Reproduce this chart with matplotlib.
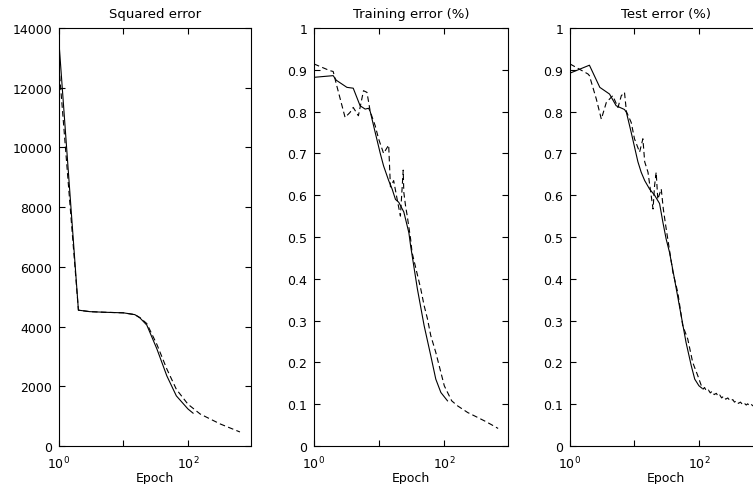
import matplotlib
matplotlib.use("Agg")
import matplotlib.pyplot as plt

# squared error
sq_solid_epoch = [1, 2, 3, 5, 10, 15, 18, 23, 33, 47, 66, 100, 120]
sq_solid_val = [13500, 4550, 4500, 4480, 4460, 4400, 4290, 4050, 3250, 2350, 1680, 1240, 1100]
sq_dash_epoch = [1, 2, 3, 5, 10, 15, 18, 23, 33, 47, 66, 100, 155, 315, 640]
sq_dash_val = [12700, 4550, 4500, 4480, 4460, 4400, 4300, 4100, 3400, 2580, 1900, 1400, 1070, 740, 470]

# training error
tr_solid_epoch = [1, 1.97, 2.2, 3.2, 4.0, 5.1, 6.1, 6.9, 7.3, 8.7, 10.4, 11.7, 14, 15.8,
                  17.8, 20, 23.9, 28.6, 30.4, 38.6, 49, 62, 74, 88.6, 112]
tr_solid_val = [0.882, 0.886, 0.875, 0.858, 0.856, 0.814, 0.806, 0.808, 0.80, 0.75, 0.70,
                0.67, 0.635, 0.615, 0.59, 0.583, 0.56, 0.51, 0.479, 0.376, 0.288, 0.216,
                0.160, 0.128, 0.108]
tr_dash_epoch = [1, 1.75, 1.97, 2.2, 3.0, 3.57, 4.0, 4.8, 5.75, 6.5, 7.3, 8.7, 9.8, 11.7,
                 14, 14.9, 16.7, 18.9, 21.2, 23.4, 23.9, 25.4, 27, 30.4, 32, 43.5, 49, 55,
                 62, 74, 88.6, 100, 119, 130, 160, 229, 300, 415, 530, 670]
tr_dash_val = [0.914, 0.898, 0.896, 0.866, 0.786, 0.798, 0.81, 0.79, 0.85, 0.846, 0.80,
               0.766, 0.735, 0.70, 0.72, 0.62, 0.635, 0.59, 0.55, 0.66, 0.607, 0.575, 0.55,
               0.495, 0.463, 0.376, 0.336, 0.305, 0.264, 0.224, 0.176, 0.144, 0.12, 0.108,
               0.096, 0.080, 0.071, 0.060, 0.051, 0.042]

# test error
te_solid_epoch = [1, 2.0, 2.9, 4.1, 5.2, 7.0, 7.5, 8.9, 11.3, 12.7, 14.4, 17.1, 20.5,
                  24.5, 27.6, 31, 35, 41.8, 53, 63, 76, 86, 100, 112]
te_solid_val = [0.892, 0.911, 0.858, 0.842, 0.814, 0.805, 0.798, 0.75, 0.68, 0.655, 0.635,
                0.615, 0.60, 0.58, 0.535, 0.495, 0.463, 0.399, 0.312, 0.248, 0.192, 0.16,
                0.144, 0.138]
te_dash_epoch = [1, 1.9, 2.0, 2.56, 3.06, 3.66, 4.6, 5.55, 6.25, 7.0, 7.5, 8.9, 10, 12,
                 13.5, 14.4, 16.2, 19.4, 20.5, 21.7, 23, 26, 28, 31, 39.5, 47, 56, 67, 80,
                 96, 109, 116, 122, 130, 140, 150, 160, 172, 186, 198, 210, 225, 240, 260,
                 280, 305, 335, 355, 380, 410, 440, 470, 500, 541, 570, 600, 640, 690, 740,
                 800, 870, 950]
te_dash_val = [0.914, 0.89, 0.886, 0.83, 0.782, 0.822, 0.838, 0.81, 0.838, 0.846, 0.80,
               0.774, 0.735, 0.703, 0.735, 0.68, 0.655, 0.567, 0.623, 0.655, 0.59, 0.615,
               0.567, 0.52, 0.415, 0.367, 0.288, 0.256, 0.20, 0.168, 0.144, 0.136, 0.140,
               0.132, 0.134, 0.127, 0.131, 0.123, 0.126, 0.119, 0.122, 0.115, 0.119, 0.112,
               0.115, 0.108, 0.111, 0.105, 0.108, 0.102, 0.105, 0.100, 0.103, 0.098, 0.101,
               0.097, 0.100, 0.096, 0.099, 0.096, 0.098, 0.096]

titles = ["Squared error", "Training error (%)", "Test error (%)"]
x_ticks = [1, 10, 100]
x_ticklabels = [r"$\mathregular{10^0}$", "", r"$\mathregular{10^2}$"]

plt.rcParams["font.family"] = "DejaVu Sans"
plt.rcParams["font.size"] = 9
plt.rcParams["axes.linewidth"] = 0.8

fig = plt.figure(figsize=(7.53, 4.85), dpi=100)
W, H = 753.0, 485.0
lefts = [59, 314, 570]
widths = [192, 194, 192]
top, bottom = 29, 447

series = [
    (sq_solid_epoch, sq_solid_val, sq_dash_epoch, sq_dash_val),
    (tr_solid_epoch, tr_solid_val, tr_dash_epoch, tr_dash_val),
    (te_solid_epoch, te_solid_val, te_dash_epoch, te_dash_val),
]

for i in range(3):
    ax = fig.add_axes([lefts[i] / W, (H - bottom) / H, widths[i] / W, (bottom - top) / H])
    se, sv, de, dv = series[i]
    ax.plot(se, sv, color="black", lw=0.8)
    ax.plot(de, dv, color="black", lw=0.8, linestyle=(0, (5, 3)))
    ax.set_xscale("log")
    ax.set_xlim(1, 950)
    ax.set_xticks(x_ticks)
    ax.set_xticklabels(x_ticklabels)
    ax.minorticks_off()
    if i == 0:
        ax.set_ylim(0, 14000)
        ax.set_yticks(range(0, 14001, 2000))
    else:
        ax.set_ylim(0, 1)
        ax.set_yticks([k / 10 for k in range(11)])
        ax.set_yticklabels(["0"] + ["0.%d" % k for k in range(1, 10)] + ["1"])
    ax.tick_params(direction="in", top=True, right=True, length=4, width=0.8)
    ax.tick_params(axis="x", pad=6)
    ax.tick_params(axis="y", pad=5)
    ax.set_title(titles[i], fontsize=9.5, pad=8)
    ax.set_xlabel("Epoch", labelpad=0)

fig.savefig("out.png", dpi=100)
